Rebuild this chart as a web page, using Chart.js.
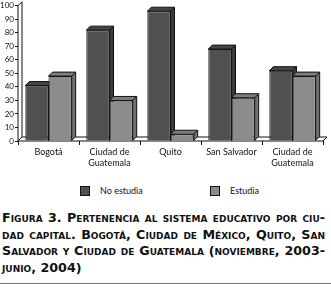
<!DOCTYPE html>
<html><head><meta charset="utf-8">
<script src="https://cdn.jsdelivr.net/npm/chart.js@4.4.0/dist/chart.umd.min.js"></script>
<style>
html,body{margin:0;padding:0;background:#fff;width:331px;height:291px;overflow:hidden;}
#wrap{position:absolute;left:0;top:0;width:331px;height:170px;}
.leg{position:absolute;top:185px;font-family:Lato,sans-serif;font-size:9px;color:#111;line-height:11px;}
.leg span.b{position:absolute;left:0;top:1px;width:8px;height:8px;border:1px solid #111;}
.leg span.t{position:absolute;left:20px;top:0;white-space:nowrap;}
#cap{position:absolute;left:2px;top:210px;width:323px;font-family:"DejaVu Sans",sans-serif;font-weight:bold;font-variant:small-caps;font-size:12.7px;line-height:16.7px;color:#111;}
#cap div{text-align:justify;text-align-last:justify;white-space:nowrap;}
#cap div.last{text-align-last:left;}
#rule{position:absolute;left:0;top:283px;width:331px;height:1px;background:#777;}
</style></head>
<body>
<div id="wrap"><canvas id="c" width="331" height="170"></canvas></div>
<div class="leg" id="leg0" style="left:80px;"><span class="b"></span><span class="t"></span></div>
<div class="leg" id="leg1" style="left:210px;"><span class="b"></span><span class="t"></span></div>
<div id="cap">
<div>Figura 3. Pertenencia al sistema educativo por ciu-</div>
<div>dad capital. Bogotá, Ciudad de México, Quito, San</div>
<div>Salvador y Ciudad de Guatemala (noviembre, 2003-</div>
<div class="last">junio, 2004)</div>
</div>
<div id="rule"></div>
<script>
const categories = [["Bogotá"], ["Ciudad de","Guatemala"], ["Quito"], ["San Salvador"], ["Ciudad de","Guatemala"]];
const seriesNames = ["No estudia", "Estudia"];
const noEstudia = [41, 82, 96, 68, 52];
const estudia = [48, 30, 5, 32, 48];
const yTicks = [0,10,20,30,40,50,60,70,80,90,100];

const frontColors = ['#505050', '#8c8c8c'];
const DX = 4, DY = -4;
const faceColors = [
  {top:'#454545', side:'#3a3a3a'},
  {top:'#7d7d7d', side:'#707070'}
];
function poly(ctx, pts, fill){
  ctx.beginPath();
  ctx.moveTo(pts[0][0], pts[0][1]);
  for (let i=1;i<pts.length;i++) ctx.lineTo(pts[i][0], pts[i][1]);
  ctx.closePath();
  ctx.fillStyle = fill; ctx.fill();
  ctx.strokeStyle = '#111'; ctx.lineWidth = 1; ctx.stroke();
}
const threeD = {
  id:'threeD',
  beforeDatasetsDraw(chart){
    const ctx = chart.ctx, a = chart.chartArea;
    const y0 = chart.scales.y.getPixelForValue(0);
    const yTop = chart.scales.y.getPixelForValue(100);
    ctx.save();
    poly(ctx, [[a.left, y0],[a.left, yTop],[a.left+DX, yTop+DY],[a.left+DX, y0+DY]], '#fff');
    poly(ctx, [[a.left, y0],[a.left+DX, y0+DY],[a.right+DX, y0+DY],[a.right, y0]], '#fff');
    const n = chart.data.labels.length;
    for (let i=0;i<n;i++){
      chart.data.datasets.forEach((ds, di) => {
        const el = chart.getDatasetMeta(di).data[i];
        const w = el.width, x = el.x - w/2, y = el.y, b = el.base;
        poly(ctx, [[x+w, y],[x+w+DX, y+DY],[x+w+DX, b+DY],[x+w, b]], faceColors[di].side);
        poly(ctx, [[x, y],[x+DX, y+DY],[x+w+DX, y+DY],[x+w, y]], faceColors[di].top);
      });
    }
    ctx.restore();
  }
};

seriesNames.forEach((n,i)=>{
  const el = document.getElementById('leg'+i);
  el.querySelector('.b').style.background = frontColors[i];
  el.querySelector('.t').textContent = n;
});

new Chart(document.getElementById('c'), {
  type:'bar',
  data:{
    labels: categories,
    datasets:[
      {label:seriesNames[0], data:noEstudia, backgroundColor:frontColors[0], borderColor:'#111', borderWidth:1, barPercentage:1, categoryPercentage:0.76},
      {label:seriesNames[1], data:estudia, backgroundColor:frontColors[1], borderColor:'#111', borderWidth:1, barPercentage:1, categoryPercentage:0.76}
    ]
  },
  options:{
    responsive:false, animation:false,
    layout:{padding:{left:0,right:8,top:0,bottom:0}},
    plugins:{ legend:{display:false}, tooltip:{enabled:false} },
    scales:{
      x:{
        afterFit(s){ s.height = 29; },
        grid:{display:true, drawOnChartArea:false, offset:true, color:'#111', tickLength:4},
        border:{display:false},
        ticks:{font:{family:'Lato', size:9, lineHeight:1.3}, color:'#111', maxRotation:0, autoSkip:false, padding:1},
      },
      y:{
        min:0, max:100,
        afterFit(s){ s.width = 18; },
        afterBuildTicks(s){ s.ticks = yTicks.map(v=>({value:v})); },
        grid:{display:true, drawOnChartArea:false, color:'#111', tickLength:3},
        border:{display:false},
        ticks:{font:{family:'Lato', size:8}, color:'#111', padding:1, autoSkip:false}
      }
    }
  },
  plugins:[threeD]
});
</script>
</body></html>
